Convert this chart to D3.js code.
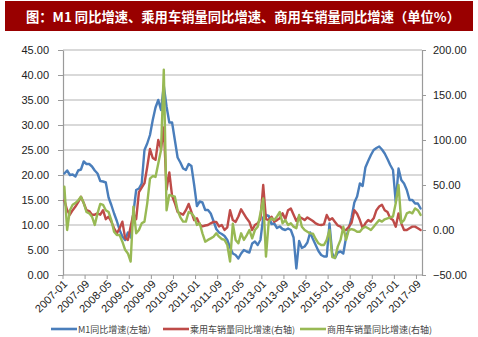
<!DOCTYPE html>
<html>
<head>
<meta charset="utf-8">
<script src="https://cdn.jsdelivr.net/npm/d3@7"></script>
<style>
html,body{margin:0;padding:0;background:#fff;}
svg{display:block;}
</style>
</head>
<body>
<svg id="chart" width="478" height="337"></svg>
<script>
// ---------- DATA ----------
const titleText = "图：M1 同比增速、乘用车销量同比增速、商用车销量同比增速（单位%）";
const seriesNames = ["M1同比增速(左轴）", "乘用车销量同比增速(右轴)", "商用车销量同比增速(右轴)"];

// months 2007-01 .. 2017-10
const categories = [];
for (let y = 2007; y <= 2017; y++) {
  for (let m = 1; m <= 12; m++) {
    if (y === 2017 && m > 10) break;
    categories.push(y + "-" + (m < 10 ? "0" + m : m));
  }
}
const xTickLabels = ["2007-01","2007-09","2008-05","2009-01","2009-09","2010-05","2011-01","2011-09","2012-05","2013-01","2013-09","2014-05","2015-01","2015-09","2016-05","2017-01","2017-09"];
const leftTicks = [0,5,10,15,20,25,30,35,40,45];
const rightTicks = [-50,0,50,100,150,200];

// M1 yoy (left axis)
const m1 = [
20.3,20.9,20.0,20.1,19.7,20.9,21.1,22.7,22.2,22.2,21.7,20.9,
20.3,18.8,18.7,18.5,15.5,14.0,12.3,10.8,9.0,7.7,7.0,8.5,
7.5,12.5,17.0,17.3,18.3,25.0,26.3,28.0,31.0,33.5,35.0,33.0,
37.8,33.7,30.5,30.5,27.0,23.5,22.5,21.3,21.0,22.2,21.8,18.0,
13.8,14.7,14.5,13.0,13.0,12.3,10.8,9.2,8.5,8.2,7.8,7.0,
5.5,4.3,4.0,3.3,4.3,5.0,4.7,4.5,6.3,6.7,6.0,7.0,
11.5,12.0,11.8,10.2,10.3,9.4,9.7,9.2,9.0,9.3,9.0,7.5,
1.3,6.8,5.4,5.7,6.5,8.5,7.2,6.0,4.8,4.0,3.7,3.7,
10.3,4.3,3.4,4.5,4.7,4.3,7.5,9.3,11.5,14.5,15.7,18.3,
17.8,21.5,22.8,24.0,25.0,25.4,25.7,25.1,24.3,23.2,22.0,21.0,
14.5,21.3,19.0,18.3,17.0,15.0,15.0,14.3,14.3,13.3
];
// passenger car sales yoy (right axis)
const passenger = [
33,22,17,22,26,31,37,30,22,21,17,17,
18.5,17,22,12,14.8,9.3,2,-3.7,1.9,9.3,-9,-11,
4,18,12,42,47,52,70,90,80,78,100,90,
114,45,64,38,30,20,18.5,17,22,29,20,11,
13,6,4,5,5.6,7.4,9,9,4,5.6,0,3,
22,11,9,15,23,18,13,9,0,5.6,7.4,12,
50,12,11,14.8,9.3,11,13,18.5,12,22,24,17,
10,14.8,13,11,14,12,10,7.4,6,5.6,6.3,16.7,
11,13,9,5,3.7,0,0,3.7,8,22,18,11,
2,7.4,11,9.3,13,22,26,28,22,20,13,11,
3.7,18.5,7.4,0,0,2,3.7,3.7,2,0
];
// commercial vehicle sales yoy (right axis)
const commercial = [
48,0,22,28,30,33,37,30,20,18.5,14.8,5.6,
18.5,29,28,22,20,11,-2,-5.6,-5.6,-13,-22,-26,
-35,26,-3.7,0,7.4,9.3,29.6,57,60,59,74,89,
178,22,39,38,37,22,14,9.3,9.3,20,18.5,14.8,
5.6,7.4,-3.7,-13,-11,-9.3,-7.4,-3.7,-7.4,-10,-11,-16.7,
-35,7,-11,-14.8,-3.7,-11,-6,0,-9.3,0,3.7,18.5,
35,-29.6,9.3,13,11,15,20,7.4,11,5.6,7.4,3.7,
2,16.7,3.7,0,-2,-3.7,-4,-10,-14.8,-16.7,-16.7,-11,
0,-30,-31,-18.5,-11,3.7,-11,0,1,0,-1.9,-1.9,
1.9,3.7,1.9,0,3.7,7.4,11,9.3,11.9,13,14,15,
30,50,8,11,18.5,20,18.5,24,22,16.7
];

const colors = ["#4A7EBB", "#BE4B48", "#98B954"];

// ---------- LAYOUT ----------
const svg = d3.select("#chart");
const L = 63, R = 422, T = 50, B = 275;

// Title bar
svg.append("rect").attr("x", 5).attr("y", 1).attr("width", 468).attr("height", 30).attr("fill", "#990000");
svg.append("text").attr("x", 243).attr("y", 16).attr("text-anchor", "middle").attr("dominant-baseline", "central")
  .attr("fill", "#fff").attr("font-family", "'Noto Sans CJK SC', sans-serif").attr("font-weight", "bold")
  .attr("font-size", "13.3px").text(titleText);

const x = d3.scaleBand().domain(categories).range([L, R]).paddingInner(0).paddingOuter(0);
const cx = d => x(d) + x.bandwidth() / 2;
const yL = d3.scaleLinear().domain([0, 45]).range([B, T]);
const yR = d3.scaleLinear().domain([-50, 200]).range([B, T]);

// gridlines
svg.append("g").selectAll("line").data(leftTicks.filter(v => v > 0)).join("line")
  .attr("x1", L).attr("x2", R).attr("y1", d => yL(d)).attr("y2", d => yL(d))
  .attr("stroke", "#B3B3B3").attr("stroke-width", 1.2);

// left axis
const gL = svg.append("g").attr("transform", `translate(${L},0)`)
  .call(d3.axisLeft(yL).tickValues(leftTicks).tickFormat(d3.format(".2f")).tickSizeInner(5).tickSizeOuter(0).tickPadding(9));
// right axis
const gR = svg.append("g").attr("transform", `translate(${R},0)`)
  .call(d3.axisRight(yR).tickValues(rightTicks).tickFormat(d3.format(".2f")).tickSizeInner(4).tickSizeOuter(0).tickPadding(7));
// bottom axis
const tickCats = categories.filter((c, i) => i % 8 === 0);
const gB = svg.append("g").attr("transform", `translate(0,${B})`);
gB.append("line").attr("x1", L).attr("x2", R).attr("y1", 0).attr("y2", 0).attr("stroke", "#9A9A9A").attr("stroke-width", 1.2);
gB.selectAll("line.tk").data(tickCats).join("line").attr("class", "tk")
  .attr("x1", d => x(d)).attr("x2", d => x(d)).attr("y1", 0).attr("y2", 4)
  .attr("stroke", "#9A9A9A");
gB.selectAll("text").data(xTickLabels).join("text")
  .attr("transform", d => `translate(${cx(d) + 1},${7}) rotate(-45)`)
  .attr("text-anchor", "end").attr("dy", "0.35em")
  .attr("font-family", "'Liberation Sans', Arial, sans-serif").attr("font-size", "11px").attr("fill", "#222")
  .text(d => d);

[gL, gR].forEach(g => {
  g.select(".domain").attr("stroke", "#9A9A9A").attr("stroke-width", 1.2);
  g.selectAll(".tick line").attr("stroke", "#9A9A9A");
  g.selectAll(".tick text").attr("font-family", "'Liberation Sans', Arial, sans-serif").attr("font-size", "11px").attr("fill", "#222");
});

// lines
const mkLine = (yScale) => d3.line().x((d, i) => cx(categories[i])).y(d => yScale(d));
const data = [[m1, yL], [passenger, yR], [commercial, yR]];
data.forEach(([vals, sc], k) => {
  svg.append("path").datum(vals).attr("d", mkLine(sc))
    .attr("fill", "none").attr("stroke", colors[k]).attr("stroke-width", 2.4)
    .attr("stroke-linejoin", "round").attr("stroke-linecap", "round");
});

// legend
const legendPos = [51, 163, 300];
const lg = svg.append("g");
seriesNames.forEach((n, k) => {
  const lx = legendPos[k];
  lg.append("line").attr("x1", lx).attr("x2", lx + 26).attr("y1", 329).attr("y2", 329)
    .attr("stroke", colors[k]).attr("stroke-width", 2.6);
  lg.append("text").attr("x", lx + 27).attr("y", 329).attr("dominant-baseline", "central")
    .attr("font-family", "'Noto Sans CJK SC', sans-serif").attr("font-size", "9px").attr("fill", "#444")
    .text(n);
});
</script>
</body>
</html>
